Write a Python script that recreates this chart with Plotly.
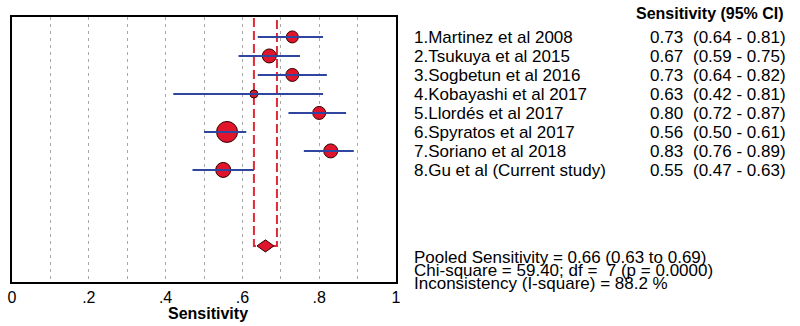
import plotly.graph_objects as go

# ---- data ----
studies = [
    "1.Martinez et al 2008",
    "2.Tsukuya et al 2015",
    "3.Sogbetun et al 2016",
    "4.Kobayashi et al 2017",
    "5.Llordés et al 2017",
    "6.Spyratos et al 2017",
    "7.Soriano et al 2018",
    "8.Gu et al (Current study)",
]
sensitivity = [0.73, 0.67, 0.73, 0.63, 0.80, 0.56, 0.83, 0.55]
ci_low = [0.64, 0.59, 0.64, 0.42, 0.72, 0.50, 0.76, 0.47]
ci_high = [0.81, 0.75, 0.82, 0.81, 0.87, 0.61, 0.89, 0.63]
pooled = 0.66
pooled_low = 0.63
pooled_high = 0.69
chi_square = 59.40
df = 7
p_value = 0.0000
i_square = 88.2
tick_vals = [0, 0.2, 0.4, 0.6, 0.8, 1.0]
tick_text = ["0", ".2", ".4", ".6", ".8", "1"]

# ---- style ----
marker_px = [12, 14, 13, 8, 13, 21, 14, 15]
FONT = "Liberation Sans, Arial, sans-serif"
RED = "#e0142a"
EDGE = "#300000"
BLUE = "#2f45a0"
DASHRED = "#e02a38"
GRID = "#a8a8a8"
DIAMOND_HALF_W = 0.022   # in x-axis units
DIAMOND_HALF_H = 0.32    # in row units

rows = list(range(1, len(studies) + 1))
pooled_row = len(studies) + 4

W, H = 800, 326
L, T = 8, 17
PW, PH = 388, 265
R = W - L - PW
B = H - T - PH

fig = go.Figure()

# pooled CI dashed red bracket
fig.add_trace(go.Scatter(
    x=[pooled_low, pooled_low, pooled_high, pooled_high],
    y=[0, pooled_row, pooled_row, 0],
    mode="lines",
    line=dict(color=DASHRED, width=2, dash="9px,4px"),
    hoverinfo="skip", showlegend=False,
))

# study markers
fig.add_trace(go.Scatter(
    x=sensitivity, y=rows, mode="markers",
    marker=dict(size=marker_px, color=RED, opacity=1,
                line=dict(color=EDGE, width=1)),
    showlegend=False,
))

# CI lines (drawn over markers)
cx, cy = [], []
for lo, hi, r in zip(ci_low, ci_high, rows):
    cx += [lo, hi, None]
    cy += [r, r, None]
fig.add_trace(go.Scatter(
    x=cx, y=cy, mode="lines",
    line=dict(color=BLUE, width=2),
    hoverinfo="skip", showlegend=False,
))

# pooled diamond
fig.add_trace(go.Scatter(
    x=[pooled - DIAMOND_HALF_W, pooled, pooled + DIAMOND_HALF_W, pooled, pooled - DIAMOND_HALF_W],
    y=[pooled_row, pooled_row - DIAMOND_HALF_H, pooled_row, pooled_row + DIAMOND_HALF_H, pooled_row],
    mode="lines", fill="toself", fillcolor=RED,
    line=dict(color=EDGE, width=1),
    hoverinfo="skip", showlegend=False,
))


def px_x(px):
    return (px - L) / PW


def px_y(py):
    return (T + PH - py) / PH


ann = []
for name, s, lo, hi, r in zip(studies, sensitivity, ci_low, ci_high, rows):
    common = dict(yref="y", y=r, xref="paper", yanchor="middle", xanchor="left",
                  showarrow=False, font=dict(family=FONT, size=17, color="black"), yshift=-1)
    ann.append(dict(text=name, x=px_x(412), **common))
    ann.append(dict(text=f"{s:.2f}", x=px_x(651), **common))
    ann.append(dict(text=f"({lo:.2f} - {hi:.2f})", x=px_x(694), **common))

ann.append(dict(text="<b>Sensitivity (95% CI)</b>", x=px_x(636), y=px_y(13),
                xref="paper", yref="paper", xanchor="left", yanchor="middle",
                showarrow=False, font=dict(family=FONT, size=16, color="black")))

bottom = [
    f"Pooled Sensitivity = {pooled:.2f} ({pooled_low:.2f} to {pooled_high:.2f})",
    f"Chi-square = {chi_square:.2f}; df =\u00a0 {df} (p = {p_value:.4f})",
    f"Inconsistency (I-square) = {i_square:.1f} %",
]
for txt, py in zip(bottom, [257, 270, 283]):
    ann.append(dict(text=txt, x=px_x(412), y=px_y(py), xref="paper", yref="paper",
                    xanchor="left", yanchor="middle", showarrow=False,
                    font=dict(family=FONT, size=17, color="black")))

ann.append(dict(text="<b>Sensitivity</b>", x=px_x(206), y=px_y(313),
                xref="paper", yref="paper", xanchor="center", yanchor="middle",
                showarrow=False, font=dict(family=FONT, size=16, color="black")))

fig.update_layout(
    width=W, height=H,
    margin=dict(l=L, r=R, t=T, b=B, pad=0),
    paper_bgcolor="white", plot_bgcolor="white",
    annotations=ann,
    showlegend=False,
)
fig.update_xaxes(
    range=[0, 1], tickvals=tick_vals, ticktext=tick_text,
    tickfont=dict(family=FONT, size=16, color="black"),
    ticklabeloverflow="allow",
    showgrid=True, gridcolor=GRID, gridwidth=1, griddash="3px,4px",
    minor=dict(dtick=0.1, tick0=0, showgrid=True, gridcolor=GRID,
               gridwidth=1, griddash="3px,4px"),
    zeroline=False, showline=True, mirror=True, linecolor="black", linewidth=2,
    ticks="", fixedrange=True,
)
fig.update_yaxes(
    range=[13.9, -0.05], showticklabels=False, showgrid=False, zeroline=False,
    showline=True, mirror=True, linecolor="black", linewidth=2, ticks="",
    fixedrange=True,
)

fig.write_html("out.html", config={"displayModeBar": False},
               post_script="document.body.style.margin='0px';")
